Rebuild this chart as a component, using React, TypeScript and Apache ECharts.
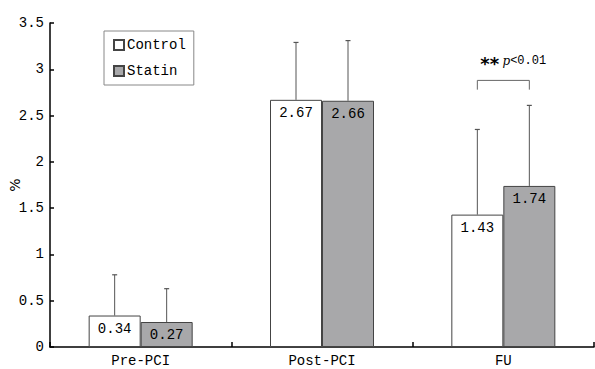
import React, { useEffect, useRef } from "react";
import * as echarts from "echarts";

const categories = ["Pre-PCI", "Post-PCI", "FU"];
const controlMeans = [0.34, 2.67, 1.43];
const statinMeans = [0.27, 2.66, 1.74];
const controlUpper = [0.78, 3.29, 2.35];
const statinUpper = [0.63, 3.31, 2.61];
const bracketTop = 2.88;
const bracketFoot = 2.78;
const yMin = 0;
const yMax = 3.5;
const yInterval = 0.5;

const MONO = "Liberation Mono";
const BAR_W = 52;

export default function App() {
  const ref = useRef<HTMLDivElement>(null);
  useEffect(() => {
    const chart = echarts.init(ref.current!, null, { renderer: "svg" });
    const errSeries = (name: string, means: number[], uppers: number[], offset: number) => ({
      type: "custom",
      name: name + "-err",
      silent: true,
      z: 1,
      data: means.map((m, i) => [i, m, uppers[i]]),
      renderItem: (params: any, api: any) => {
        const b = api.coord([api.value(0), api.value(1)]);
        const t = api.coord([api.value(0), api.value(2)]);
        const x = b[0] + offset;
        return {
          type: "group",
          children: [
            { type: "line", shape: { x1: x, y1: b[1], x2: x, y2: t[1] }, style: { stroke: "#555", lineWidth: 1 } },
            { type: "line", shape: { x1: x - 2.5, y1: t[1], x2: x + 2.5, y2: t[1] }, style: { stroke: "#555", lineWidth: 1.2 } },
          ],
        };
      },
    });
    const label = {
      show: true,
      position: "insideTop",
      distance: 6,
      formatter: (p: any) => p.value.toFixed(2),
      fontFamily: MONO,
      fontSize: 14,
      color: "#000",
    };
    chart.setOption({
      animation: false,
      grid: { left: 50, right: 1, top: 23, bottom: 22, containLabel: false, outerBoundsMode: "none" },
      legend: {
        data: ["Control", "Statin"],
        orient: "vertical",
        left: 104,
        top: 31,
        borderColor: "#888",
        borderWidth: 1,
        padding: [7, 8, 7, 9],
        itemGap: 12,
        itemWidth: 10,
        itemHeight: 10,
        icon: "rect",
        textStyle: { fontFamily: MONO, fontSize: 14, color: "#000", padding: [0, 0, 0, -2] },
      },
      xAxis: {
        type: "category",
        data: categories,
        axisLine: { lineStyle: { color: "#000", width: 1.5 } },
        axisTick: { show: true, inside: true, length: 5, lineStyle: { color: "#000", width: 1.5 } },
        axisLabel: { fontFamily: MONO, fontSize: 14, lineHeight: 14, color: "#000", margin: 7 },
      },
      yAxis: {
        type: "value",
        min: yMin,
        max: yMax,
        interval: yInterval,
        name: "%",
        nameLocation: "middle",
        nameGap: 28,
        nameMoveOverlap: false,
        nameRotate: 90,
        nameTextStyle: { fontFamily: "DejaVu Sans", fontSize: 14, color: "#000" },
        splitLine: { show: false },
        axisLine: { show: true, lineStyle: { color: "#000", width: 1.5 } },
        axisTick: { show: true, inside: true, length: 4, lineStyle: { color: "#000", width: 1.5 } },
        axisLabel: { fontFamily: MONO, fontSize: 14, color: "#000", margin: 6 },
      },
      series: [
        {
          type: "bar",
          name: "Control",
          data: controlMeans,
          barWidth: BAR_W,
          barGap: "0%",
          z: 2,
          itemStyle: { color: "#ffffff", borderColor: "#444", borderWidth: 1 },
          label,
        },
        {
          type: "bar",
          name: "Statin",
          data: statinMeans,
          barWidth: BAR_W,
          barGap: "0%",
          z: 2,
          itemStyle: { color: "#a8a8aa", borderColor: "#444", borderWidth: 1 },
          label,
        },
        errSeries("Control", controlMeans, controlUpper, -BAR_W / 2),
        errSeries("Statin", statinMeans, statinUpper, BAR_W / 2),
        {
          type: "custom",
          name: "sig",
          silent: true,
          data: [[2, bracketTop, bracketFoot]],
          renderItem: (params: any, api: any) => {
            const t = api.coord([api.value(0), api.value(1)]);
            const f = api.coord([api.value(0), api.value(2)]);
            const x1 = t[0] - BAR_W / 2;
            const x2 = t[0] + BAR_W / 2;
            return {
              type: "group",
              children: [
                {
                  type: "polyline",
                  shape: { points: [[x1, f[1]], [x1, t[1]], [x2, t[1]], [x2, f[1]]] },
                  style: { stroke: "#666", lineWidth: 1, fill: "none" },
                },
                {
                  type: "text",
                  x: x1 + 3,
                  y: t[1] - 19,
                  style: {
                    text: "{a|**} {b|p}{c|<0.01}",
                    verticalAlign: "middle",
                    rich: {
                      a: { fontFamily: "DejaVu Sans", fontSize: 18, fontWeight: "bold", fill: "#000", padding: [5, 0, 0, 0] },
                      b: { fontFamily: "DejaVu Serif", fontSize: 12, fontStyle: "italic", fill: "#000" },
                      c: { fontFamily: MONO, fontSize: 12, fill: "#000" },
                    },
                  },
                },
              ],
            };
          },
        },
      ],
    });
    return () => chart.dispose();
  }, []);
  return <div ref={ref} style={{ position: "fixed", left: 0, top: 0, width: 595, height: 369, background: "#fff" }} />;
}
